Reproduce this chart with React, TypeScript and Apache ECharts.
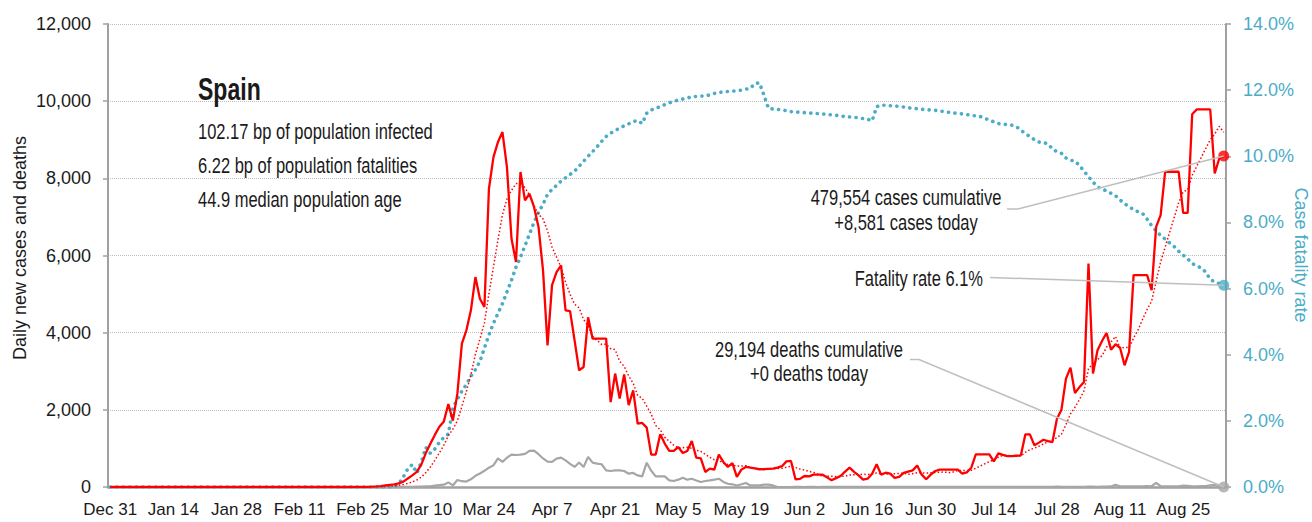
import React, { useEffect, useRef } from "react";
import * as echarts from "echarts";

// Daily new cases, one value per day from Dec 31 (index 0) to Sep 3 (index 247)
const CASES: number[] = [
  0, 0, 0, 0, 0, 0, 0, 0, 0, 0,
  0, 0, 0, 0, 0, 0, 0, 0, 0, 0,
  0, 0, 0, 0, 0, 0, 0, 0, 0, 0,
  0, 0, 1, 0, 0, 0, 0, 0, 0, 0,
  1, 0, 0, 0, 0, 0, 0, 0, 0, 0,
  0, 0, 0, 0, 0, 0, 2, 5, 9, 15,
  25, 40, 55, 70, 95, 140, 220, 300, 390, 580,
  880, 1120, 1350, 1560, 1700, 2150, 1720, 2420, 3715, 4060,
  4580, 5440, 4880, 4665, 7730, 8550, 8940, 9200, 8290, 6440,
  5830, 8165, 7430, 7600, 7260, 6740, 5615, 3670, 5230, 5570,
  5745, 4580, 4560, 3800, 3025, 3110, 4400, 3845, 3845, 3845,
  3845, 2200, 2940, 2290, 2920, 2120, 2505, 1640, 1660, 1540,
  840, 840, 1365, 1125, 935, 935, 1035, 880, 935, 1190,
  760, 740, 390, 475, 450, 840, 650, 520, 620, 260,
  450, 520, 500, 480, 460, 465, 470, 475, 500, 540,
  665, 675, 200, 210, 285, 275, 320, 320, 320, 250,
  175, 230, 285, 400, 500, 390, 300, 190, 215, 345,
  590, 320, 370, 345, 235, 260, 365, 400, 430, 555,
  320, 200, 320, 415, 450, 450, 450, 450, 450, 345,
  380, 500, 845, 845, 845, 845, 665, 870, 835, 800,
  800, 810, 820, 1365, 1365, 1080, 1150, 1225, 1190, 1165,
  1770, 2005, 2810, 3095, 2435, 2590, 2720, 5790, 2940, 3545,
  3785, 3990, 3560, 3700, 3610, 3155, 3500, 5490, 5490, 5490,
  5490, 5100, 6740, 7045, 8170, 8170, 8170, 8170, 7105, 7105,
  9660, 9785, 9785, 9785, 9785, 8125, 8515, 8581,
];

// Daily new deaths
const DEATHS: number[] = [
  0, 0, 0, 0, 0, 0, 0, 0, 0, 0,
  0, 0, 0, 0, 0, 0, 0, 0, 0, 0,
  0, 0, 0, 0, 0, 0, 0, 0, 0, 0,
  0, 0, 0, 0, 0, 0, 0, 0, 0, 0,
  0, 0, 0, 0, 0, 0, 0, 0, 0, 0,
  0, 0, 0, 0, 0, 0, 0, 0, 0, 0,
  0, 0, 0, 0, 1, 2, 3, 5, 8, 10,
  15, 20, 35, 50, 60, 120, 40, 180, 150, 140,
  200, 290, 350, 420, 500, 560, 740, 650, 760, 840,
  830, 840, 860, 935, 945, 850, 740, 660, 650, 735,
  760, 690, 600, 520, 635, 520, 780, 630, 605, 590,
  430, 415, 430, 430, 415, 345, 365, 300, 275, 630,
  420, 275, 275, 275, 170, 155, 190, 240, 190, 215,
  170, 130, 155, 170, 190, 215, 130, 85, 70, 40,
  70, 105, 40, 40, 40, 60, 60, 40, 0, 0,
  0, 0, 1, 1, 0, 2, 1, 0, 1, 2,
  1, 2, 1, 1, 3, 2, 1, 2, 1, 1,
  2, 3, 1, 2, 2, 1, 3, 2, 1, 2,
  3, 2, 3, 1, 2, 3, 2, 1, 2, 3,
  4, 2, 3, 2, 4, 3, 2, 3, 4, 2,
  3, 5, 3, 4, 2, 6, 5, 4, 3, 6,
  8, 5, 4, 3, 7, 6, 5, 9, 8, 6,
  10, 12, 15, 55, 18, 15, 14, 16, 20, 18,
  25, 20, 110, 22, 18, 20, 16, 18, 35, 30,
  20, 18, 22, 25, 40, 55, 30, 0,
];

// Case fatality rate, percent
const RATE: number[] = [
  0, 0, 0, 0, 0, 0, 0, 0, 0, 0,
  0, 0, 0, 0, 0, 0, 0, 0, 0, 0,
  0, 0, 0, 0, 0, 0, 0, 0, 0, 0,
  0, 0, 0, 0, 0, 0, 0, 0, 0, 0,
  0, 0, 0, 0, 0, 0, 0, 0, 0, 0,
  0, 0, 0, 0, 0, 0, 0, 0, 0, 0,
  0, 0, 0, 0, 0.1, 0.3, 0.55, 0.68, 0.42, 0.75,
  1.2, 1.02, 1.15, 1.35, 1.5, 1.6, 2.4, 2.65, 2.9, 3.1,
  3.35, 3.55, 3.8, 4.2, 4.6, 4.95, 5.25, 5.55, 5.9, 6.25,
  6.65, 6.95, 7.3, 7.65, 8.0, 8.3, 8.55, 8.85, 9.0, 9.12,
  9.25, 9.35, 9.45, 9.55, 9.7, 9.85, 10.0, 10.14, 10.29, 10.45,
  10.6, 10.7, 10.78, 10.85, 10.92, 10.98, 11.05, 11.08, 10.99, 11.3,
  11.4, 11.45, 11.5, 11.56, 11.62, 11.66, 11.7, 11.73, 11.76, 11.8,
  11.81, 11.82, 11.82, 11.86, 11.9, 11.93, 11.95, 11.96, 11.97, 11.98,
  12.0, 12.03, 12.06, 12.2, 12.22, 11.85, 11.45, 11.43, 11.42, 11.4,
  11.38, 11.35, 11.34, 11.33, 11.32, 11.31, 11.3, 11.29, 11.28, 11.27,
  11.25, 11.24, 11.22, 11.2, 11.19, 11.18, 11.16, 11.14, 11.12, 11.07,
  11.5, 11.55, 11.54, 11.53, 11.52, 11.51, 11.49, 11.47, 11.45, 11.44,
  11.42, 11.41, 11.4, 11.39, 11.37, 11.35, 11.33, 11.31, 11.3, 11.28,
  11.26, 11.24, 11.22, 11.2, 11.15, 11.09, 11.04, 10.99, 10.97, 10.96,
  10.94, 10.9, 10.79, 10.68, 10.6, 10.5, 10.43, 10.41, 10.38, 10.22,
  10.14, 10.09, 9.95, 9.88, 9.86, 9.72, 9.55, 9.38, 9.22, 9.08,
  9.0, 8.96, 8.88, 8.81, 8.68, 8.57, 8.47, 8.39, 8.32, 8.27,
  8.1, 7.9, 7.75, 7.6, 7.5, 7.38, 7.27, 7.13, 7.01, 6.9,
  6.76, 6.68, 6.63, 6.5, 6.28, 6.2, 6.15, 6.1,
];

const MONTHS = ["Jan", "Feb", "Mar", "Apr", "May", "Jun", "Jul", "Aug", "Sep", "Oct", "Nov", "Dec"];
const START = Date.UTC(2019, 11, 31);
const CATEGORIES: string[] = CASES.map((_, k) => {
  const d = new Date(START + k * 86400000);
  return `${MONTHS[d.getUTCMonth()]} ${d.getUTCDate()}`;
});

// 7-day trailing average of daily cases
const CASES_AVG: number[] = CASES.map((_, k) => {
  const w = CASES.slice(Math.max(0, k - 6), k + 1);
  return w.reduce((a, b) => a + b, 0) / w.length;
});

const TITLE = "Spain";
const INFO_LINES = [
  "102.17 bp of population infected",
  "6.22 bp of population fatalities",
  "44.9 median population age",
];
const CASES_NOTE = ["479,554 cases cumulative", "+8,581 cases today"];
const RATE_NOTE = "Fatality rate 6.1%";
const DEATHS_NOTE = ["29,194 deaths cumulative", "+0 deaths today"];
const LEFT_NAME = "Daily new cases and deaths";
const RIGHT_NAME = "Case fatality rate";

const FONT = '"Liberation Sans", Arial, sans-serif';
const NARROW = 0.75;
const RED = "#ff0000";
const TEAL = "#4bacc6";
const GRAY = "#a6a6a6";
const AXIS = "#a0a0a0";
const LEADER = "#bfbfbf";
const TEXT = "#1a1a1a";

export default function App() {
  const ref = useRef<HTMLDivElement>(null);

  useEffect(() => {
    if (!ref.current) return;
    const chart = echarts.init(ref.current, undefined, { renderer: "svg" });
    const last = CASES.length - 1;
    const lastCat = CATEGORIES[last];

    chart.setOption({
      animation: false,
      textStyle: { fontFamily: FONT },
      grid: { left: 108, right: 86, top: 24, bottom: 35, containLabel: false },
      xAxis: {
        type: "category",
        data: CATEGORIES,
        boundaryGap: true,
        axisLine: { lineStyle: { color: AXIS, width: 2.5 } },
        axisTick: { interval: 13, length: 5, lineStyle: { color: AXIS, width: 1.5 } },
        axisLabel: { interval: 13, color: TEXT, fontSize: 17, fontFamily: FONT, margin: 14 },
        splitLine: { show: false },
      },
      yAxis: [
        {
          type: "value",
          min: 0,
          max: 12000,
          interval: 2000,
          axisLine: { show: true, lineStyle: { color: AXIS, width: 2 } },
          axisTick: { show: true, length: 5, lineStyle: { color: AXIS, width: 1.5 } },
          axisLabel: {
            color: TEXT,
            fontSize: 18,
            fontFamily: FONT,
            margin: 17,
            formatter: (v: number) => v.toLocaleString("en-US"),
          },
          splitLine: { show: true, lineStyle: { color: "#bdbdbd", type: "dotted", width: 1 } },
        },
        {
          type: "value",
          position: "right",
          min: 0,
          max: 14,
          interval: 2,
          axisLine: { show: true, lineStyle: { color: AXIS, width: 2 } },
          axisTick: { show: true, length: 5, lineStyle: { color: AXIS, width: 1.5 } },
          axisLabel: {
            color: TEAL,
            fontSize: 18,
            fontFamily: FONT,
            margin: 17,
            formatter: (v: number) => v.toFixed(1) + "%",
          },
          splitLine: { show: false },
        },
      ],
      series: [
        {
          name: "Daily deaths",
          type: "line",
          data: DEATHS,
          symbol: "none",
          silent: true,
          lineStyle: { color: GRAY, width: 2.2 },
          z: 2,
        },
        {
          name: "Case fatality rate",
          type: "line",
          yAxisIndex: 1,
          data: RATE,
          symbol: "none",
          silent: true,
          lineStyle: { color: TEAL, width: 3.6, type: [0.1, 6.4], cap: "round" },
          z: 3,
        },
        {
          name: "7-day average",
          type: "line",
          data: CASES_AVG,
          symbol: "none",
          silent: true,
          lineStyle: { color: RED, width: 1.5, type: [1.5, 2.2] },
          z: 4,
        },
        {
          name: "Daily cases",
          type: "line",
          data: CASES,
          symbol: "none",
          silent: true,
          lineStyle: { color: RED, width: 2.3 },
          z: 5,
        },
        {
          type: "scatter",
          data: [[lastCat, CASES[last]]],
          symbolSize: 11,
          itemStyle: { color: RED },
          clip: false,
          silent: true,
          z: 6,
        },
        {
          type: "scatter",
          yAxisIndex: 1,
          data: [[lastCat, RATE[last]]],
          symbolSize: 11,
          itemStyle: { color: TEAL },
          clip: false,
          silent: true,
          z: 6,
        },
        {
          type: "scatter",
          data: [[lastCat, DEATHS[last]]],
          symbolSize: 11,
          itemStyle: { color: GRAY },
          clip: false,
          silent: true,
          z: 6,
        },
      ],
    });

    const pCase = chart.convertToPixel({ xAxisIndex: 0, yAxisIndex: 0 }, [last, CASES[last]]) as number[];
    const pDeath = chart.convertToPixel({ xAxisIndex: 0, yAxisIndex: 0 }, [last, DEATHS[last]]) as number[];
    const pRate = chart.convertToPixel({ xAxisIndex: 0, yAxisIndex: 1 }, [last, RATE[last]]) as number[];

    const txt = (
      x: number,
      y: number,
      text: string,
      size: number,
      align: string,
      opts: { fill?: string; rotation?: number; scaleX?: number; weight?: string } = {}
    ) => ({
      type: "text",
      x,
      y,
      rotation: opts.rotation ?? 0,
      scaleX: opts.scaleX ?? NARROW,
      silent: true,
      z: 20,
      style: {
        text,
        fill: opts.fill ?? TEXT,
        fontSize: size,
        fontFamily: FONT,
        fontWeight: opts.weight ?? "normal",
        align,
        verticalAlign: "middle",
      },
    });
    const leader = (points: number[][]) => ({
      type: "polyline",
      silent: true,
      z: 15,
      shape: { points },
      style: { stroke: LEADER, lineWidth: 1.5, fill: null },
    });

    chart.setOption({
      graphic: [
        txt(198, 89, TITLE, 32, "left", { weight: "bold", scaleX: 0.72 }),
        txt(198, 131, INFO_LINES[0], 22, "left"),
        txt(198, 165, INFO_LINES[1], 22, "left"),
        txt(198, 199, INFO_LINES[2], 22, "left"),
        txt(906, 197, CASES_NOTE[0], 22, "center"),
        txt(906, 222, CASES_NOTE[1], 22, "center"),
        txt(983, 278, RATE_NOTE, 22, "right"),
        txt(809, 349, DEATHS_NOTE[0], 22, "center"),
        txt(809, 373, DEATHS_NOTE[1], 22, "center"),
        txt(20, 248, LEFT_NAME, 18, "center", { rotation: Math.PI / 2, scaleX: 1 }),
        txt(1301, 255, RIGHT_NAME, 18, "center", { fill: TEAL, rotation: -Math.PI / 2, scaleX: 1 }),
        leader([[1007, 209], [1018, 209], pCase]),
        leader([[990, 277.5], pRate]),
        leader([[910, 359.5], [919, 359.5], pDeath]),
      ],
    });

    return () => chart.dispose();
  }, []);

  return (
    <div
      ref={ref}
      style={{ position: "fixed", left: 0, top: 0, width: 1312, height: 522, background: "#fff" }}
    />
  );
}
